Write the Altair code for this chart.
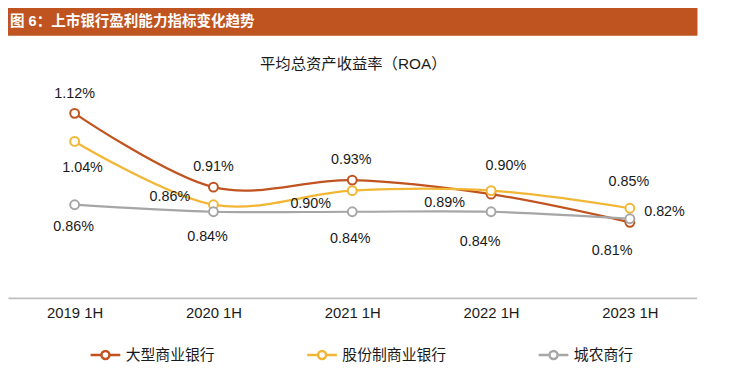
import altair as alt
import pandas as pd

# ---- data -------------------------------------------------------------
periods = ["2019 1H", "2020 1H", "2021 1H", "2022 1H", "2023 1H"]
series_names = ["大型商业银行", "股份制商业银行", "城农商行"]
large_bank = [1.12, 0.91, 0.93, 0.89, 0.81]
joint_stock = [1.04, 0.86, 0.90, 0.90, 0.85]
city_rural = [0.86, 0.84, 0.84, 0.84, 0.82]

header_text = "图 6：上市银行盈利能力指标变化趋势"
title_text = "平均总资产收益率（ROA）"

# ---- styling ----------------------------------------------------------
series_colors = ["#C0531F", "#F2B635", "#A6A6A6"]
header_color = "#BF5420"
latin_cjk = "Liberation Sans, Noto Sans CJK SC"
text_color = "#1a1a1a"

# label placement (pixel offsets from each point)
label_offsets = {
    ("大型商业银行", "2019 1H"): (0, -19),
    ("股份制商业银行", "2019 1H"): (8, 27),
    ("城农商行", "2019 1H"): (-1, 23),
    ("大型商业银行", "2020 1H"): (0, -20),
    ("股份制商业银行", "2020 1H"): (-44, -8),
    ("城农商行", "2020 1H"): (-6, 26),
    ("大型商业银行", "2021 1H"): (-1, -20),
    ("股份制商业银行", "2021 1H"): (-42, 14),
    ("城农商行", "2021 1H"): (-2, 28),
    ("股份制商业银行", "2022 1H"): (15, -25),
    ("大型商业银行", "2022 1H"): (-47, 9),
    ("城农商行", "2022 1H"): (-11, 31),
    ("股份制商业银行", "2023 1H"): (-1, -26),
    ("城农商行", "2023 1H"): (35, -7),
    ("大型商业银行", "2023 1H"): (-18, 29),
}

rows = []
for name, vals in zip(series_names, [large_bank, joint_stock, city_rural]):
    for p, v in zip(periods, vals):
        rows.append({"period": p, "series": name, "value": v})
df = pd.DataFrame(rows)

x_enc = alt.X(
    "period:N",
    sort=periods,
    scale=alt.Scale(type="point", padding=0.48),
    axis=alt.Axis(
        title=None,
        ticks=False,
        grid=False,
        domainColor="#BFBFBF",
        domainWidth=2,
        labelFontSize=15,
        labelFont=latin_cjk,
        labelColor=text_color,
        labelPadding=8,
        labelAngle=0,
    ),
)
y_enc = alt.Y("value:Q", scale=alt.Scale(domain=[0.595, 1.2]), axis=None)

legend_symbol = (
    "M-1,0L-0.27,0M0.27,0L1,0"
    "M-0.27,0A0.27,0.27,0,1,1,0.27,0A0.27,0.27,0,1,1,-0.27,0Z"
)
legend = alt.Legend(
    title=None,
    orient="none",
    legendX=82,
    legendY=256,
    direction="horizontal",
    symbolType=legend_symbol,
    symbolSize=900,
    symbolStrokeWidth=2.5,
    symbolFillColor="white",
    labelFontSize=15,
    labelFont=latin_cjk,
    labelColor=text_color,
    labelOffset=4,
    columnPadding=87,
    padding=0,
)
color_enc = alt.Color(
    "series:N",
    sort=series_names,
    scale=alt.Scale(domain=series_names, range=series_colors),
    legend=legend,
)

base = alt.Chart(df)

lines = base.mark_line(interpolate="cardinal", strokeWidth=2.25).encode(
    x=x_enc, y=y_enc, color=color_enc, detail="series:N"
)
points = base.mark_point(
    shape="circle", filled=False, fill="white", fillOpacity=1, opacity=1,
    size=80, strokeWidth=2,
).encode(x=x_enc, y=y_enc, color=color_enc)

labels = []
for (s, p), (dx, dy) in label_offsets.items():
    labels.append(
        base.transform_filter(
            (alt.datum.series == s) & (alt.datum.period == p)
        )
        .transform_calculate(label="format(datum.value, '.2f') + '%'")
        .mark_text(
            dx=dx, dy=dy, fontSize=14.5, font=latin_cjk, color=text_color,
            align="center", baseline="middle",
        )
        .encode(x=x_enc, y=y_enc, text="label:N")
    )

head_df = pd.DataFrame({"header": [header_text], "title": [title_text]})
header_bar = alt.Chart(head_df).mark_rect(color=header_color).encode(
    x=alt.value(-10), x2=alt.value(697), y=alt.value(-78), y2=alt.value(-50)
)
header_txt = alt.Chart(head_df).mark_text(
    align="left", baseline="middle", color="white", fontWeight="bold",
    fontSize=14.7, font=latin_cjk,
).encode(x=alt.value(2), y=alt.value(-64), text="header:N")
title_txt = alt.Chart(head_df).mark_text(
    align="center", baseline="middle", color=text_color, fontSize=15.5,
    font=latin_cjk,
).encode(x=alt.value(349), y=alt.value(-21), text="title:N")

chart = (
    alt.layer(header_bar, header_txt, title_txt, lines, points, *labels)
    .properties(
        width=696,
        height=215,
        padding={"left": 0, "top": 76, "right": 46, "bottom": 83},
        autosize=alt.AutoSizeParams(type="none"),
        background="white",
    )
    .configure_view(stroke=None)
)

chart.save("out.html", embed_options={"renderer": "svg", "actions": False})
